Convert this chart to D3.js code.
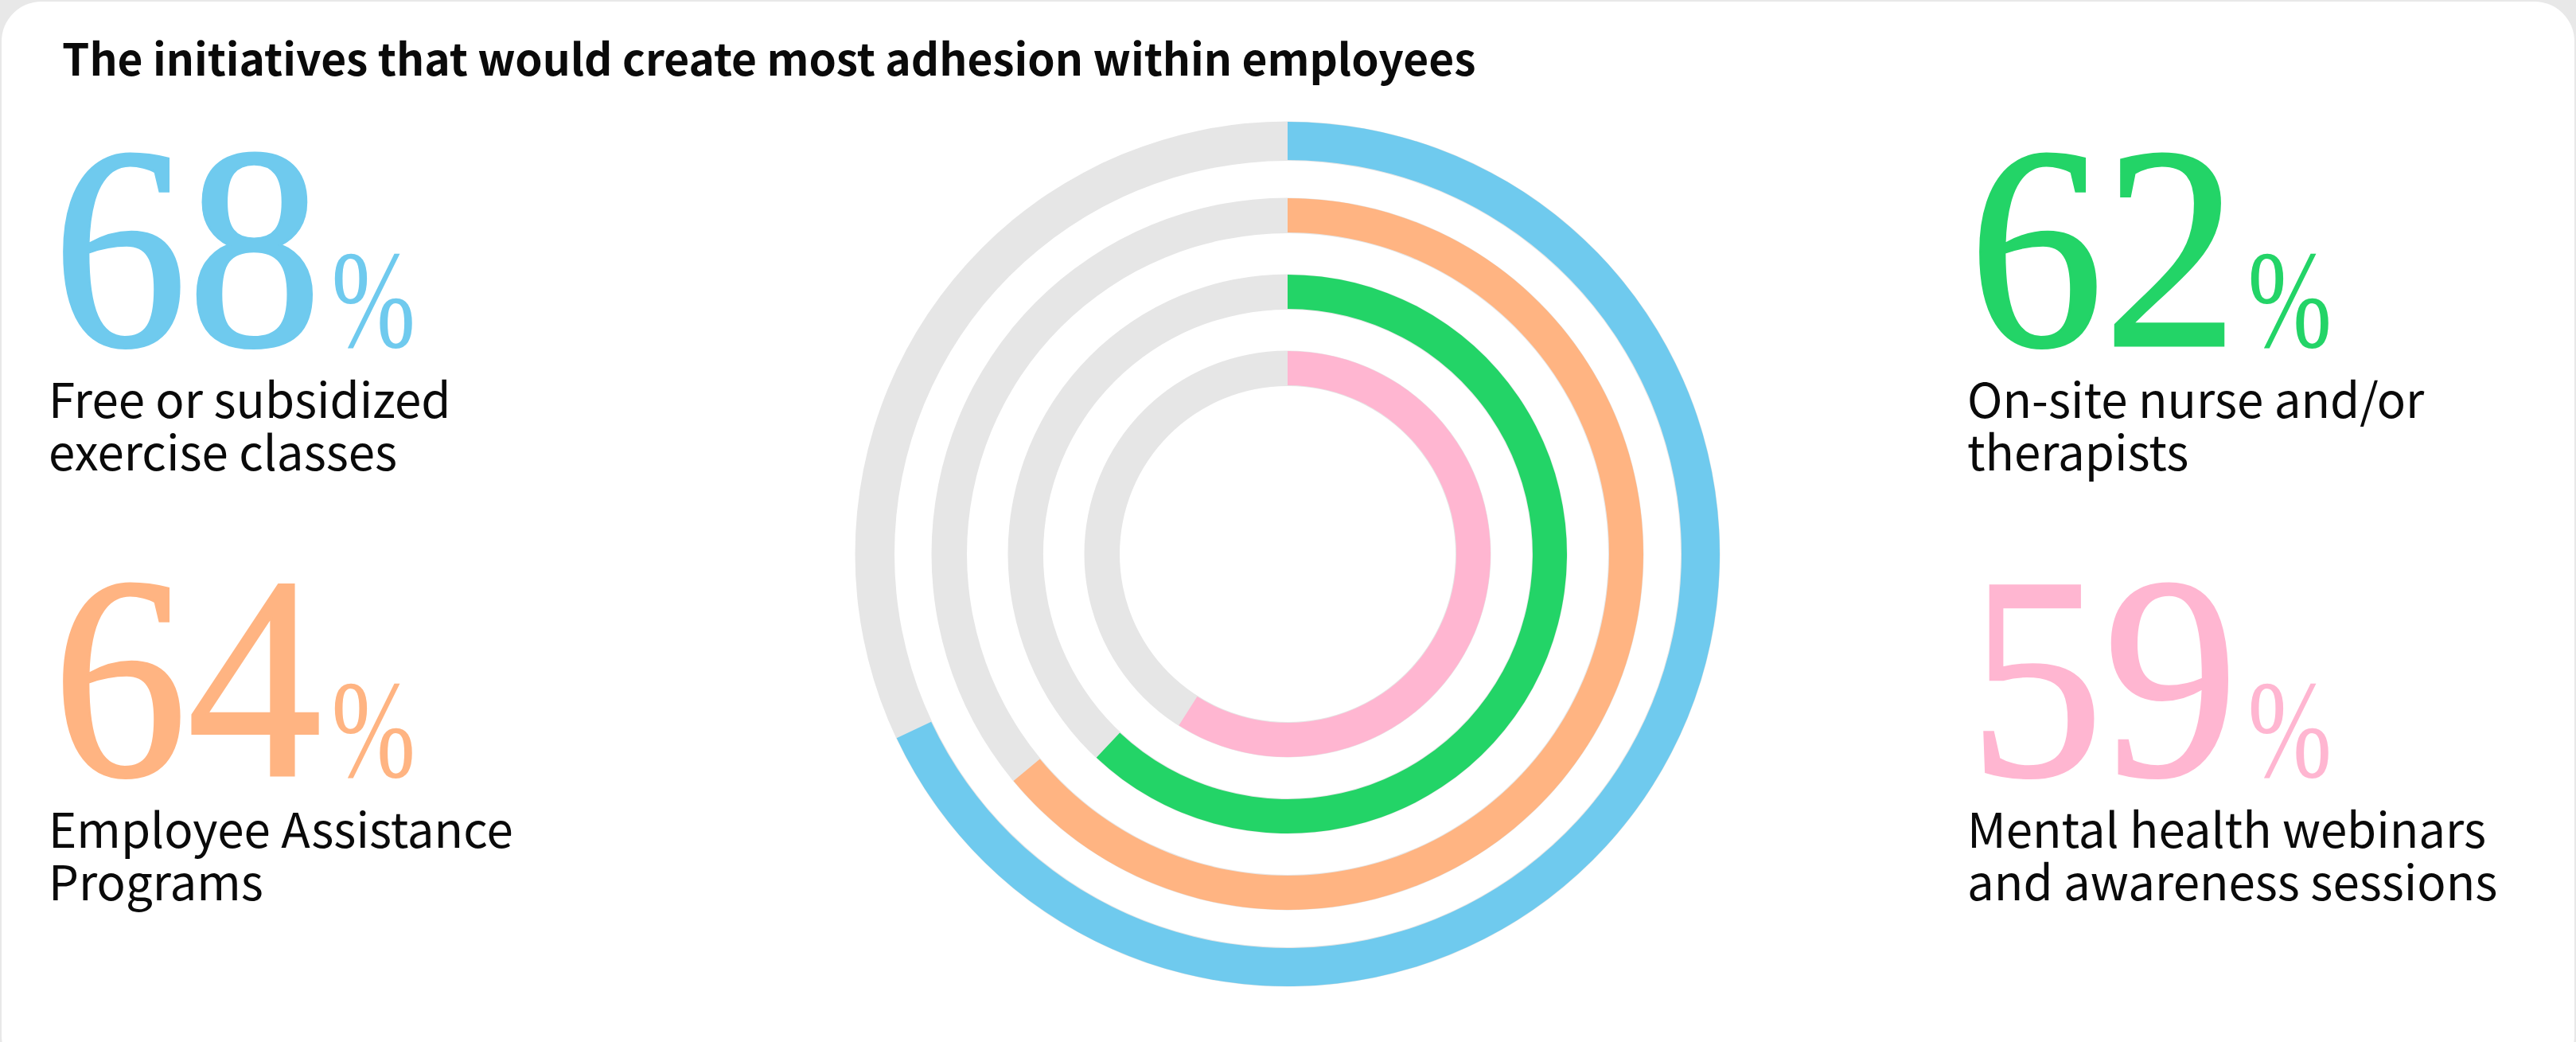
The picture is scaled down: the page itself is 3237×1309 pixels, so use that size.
<!DOCTYPE html>
<html>
<head>
<meta charset="utf-8">
<script src="https://cdn.jsdelivr.net/npm/d3@7"></script>
<style>
  html, body { margin: 0; padding: 0; background: #e8e8e8; }
  svg { display: block; }
</style>
</head>
<body>
<script>
// Survey results: share of respondents choosing each initiative
const categories = [
  "Free or subsidized exercise classes",
  "Employee Assistance Programs",
  "On-site nurse and/or therapists",
  "Mental health webinars and awareness sessions"
];
const values = [68, 64, 62, 59];
const labelLines = [
  ["Free or subsidized", "exercise classes"],
  ["Employee Assistance", "Programs"],
  ["On-site nurse and/or", "therapists"],
  ["Mental health webinars", "and awareness sessions"]
];
const colors = ["#6fcaee", "#ffb482", "#23d467", "#ffb6d1"];
const title = "The initiatives that would create most adhesion within employees";

const W = 3237, H = 1309;
const svg = d3.select("body").append("svg")
  .attr("width", W).attr("height", H);

// card
svg.append("rect")
  .attr("x", 2).attr("y", 2)
  .attr("width", W - 4).attr("height", H + 40)
  .attr("rx", 50).attr("ry", 50)
  .attr("fill", "#ffffff");

svg.append("text")
  .attr("x", 78).attr("y", 95)
  .attr("font-family", "'Noto Sans CJK SC', 'Source Sans Pro', sans-serif")
  .attr("font-weight", 700)
  .attr("font-size", 55)
  .attr("fill", "#0a0a0a")
  .text(title);

// concentric progress rings
const cx = 1618, cy = 696;
const angle = d3.scaleLinear().domain([0, 100]).range([0, 2 * Math.PI]);
const ringIndex = d3.scalePoint().domain(d3.range(values.length)).range([543, 255]);
const thickness = i => (i === 0 ? 48 : 43);

const rings = svg.append("g").attr("transform", `translate(${cx},${cy})`);
values.forEach((v, i) => {
  const outer = ringIndex(i);
  const inner = outer - thickness(i);
  rings.append("path")
    .attr("d", d3.arc()({ innerRadius: inner - 1, outerRadius: outer + 0.5, startAngle: 0, endAngle: 2 * Math.PI }))
    .attr("fill", "#e6e6e6");
  rings.append("path")
    .attr("d", d3.arc()({ innerRadius: inner, outerRadius: outer, startAngle: 0, endAngle: angle(v) }))
    .attr("fill", colors[i]);
});

// value blocks: two on the left, two on the right
const blockX = [66, 66, 2474, 2474];
const blockY = [434, 974, 434, 974];
const labelX = [61, 61, 2472, 2472];

values.forEach((v, i) => {
  const g = svg.append("g");
  const num = g.append("text")
    .attr("font-family", "'Liberation Serif', 'DejaVu Serif', serif")
    .attr("font-size", 364)
    .attr("fill", colors[i])
    .attr("stroke", colors[i])
    .attr("stroke-width", 3)
    .attr("transform", `translate(${blockX[i]},${blockY[i]}) scale(0.93,1)`)
    .text(v);
  const numW = num.node().getComputedTextLength() * 0.93;
  g.append("text")
    .attr("font-family", "'Liberation Serif', 'DejaVu Serif', serif")
    .attr("font-size", 176)
    .attr("fill", colors[i])
    .attr("transform", `translate(${blockX[i] + numW + 12},${blockY[i] + 2}) scale(0.72,1)`)
    .text("%");
  labelLines[i].forEach((line, j) => {
    g.append("text")
      .attr("x", labelX[i])
      .attr("y", blockY[i] + 91 + j * 66)
      .attr("font-family", "'Noto Sans CJK SC', 'Source Sans Pro', sans-serif")
      .attr("font-size", 60)
      .attr("fill", "#0a0a0a")
      .text(line);
  });
});
</script>
</body>
</html>
